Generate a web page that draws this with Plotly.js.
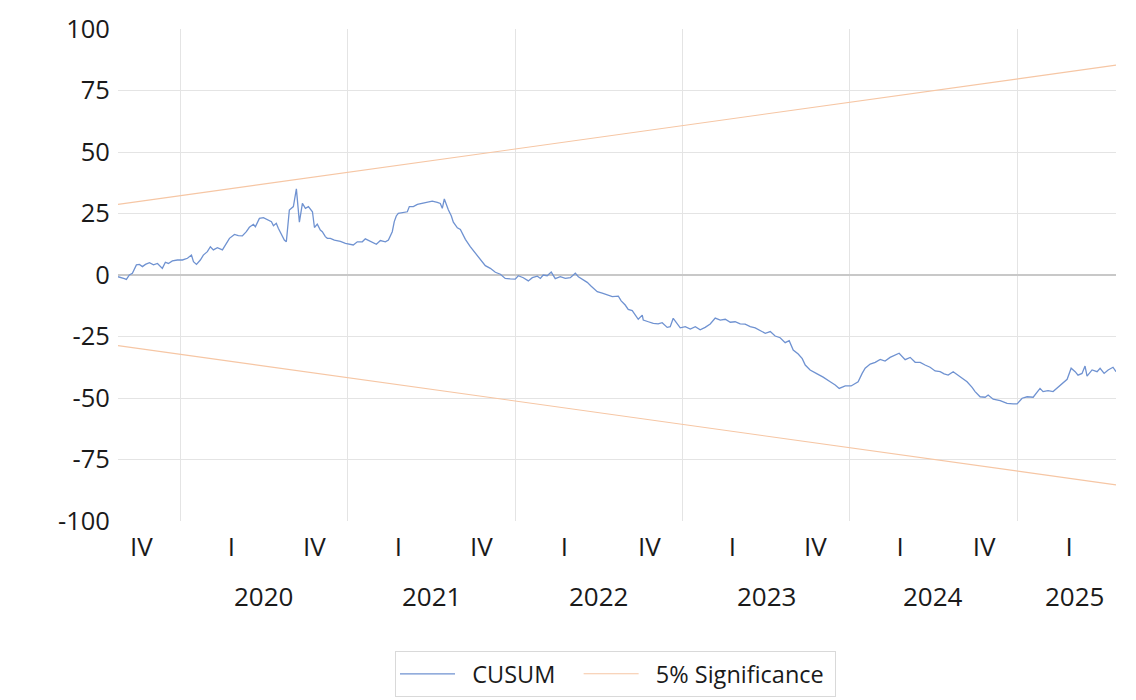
<!DOCTYPE html>
<html>
<head>
<meta charset="utf-8">
<script src="https://cdn.plot.ly/plotly-3.0.1.min.js"></script>
<style>
  html, body { margin: 0; padding: 0; background: #ffffff; }
  #chart { width: 1136px; height: 700px; }
</style>
</head>
<body>
<div id="chart"></div>
<script>
// Time in decimal years
const cusumTime = [
  2019.627, 2019.648, 2019.665, 2019.677, 2019.695, 2019.713, 2019.737, 2019.755, 2019.773, 2019.791,
  2019.815, 2019.839, 2019.863, 2019.892, 2019.910, 2019.928, 2019.952, 2019.982, 2020.012, 2020.042,
  2020.066, 2020.078, 2020.096, 2020.119, 2020.137, 2020.161, 2020.179, 2020.197, 2020.221, 2020.251,
  2020.269, 2020.293, 2020.323, 2020.346, 2020.370, 2020.394, 2020.412, 2020.436, 2020.448, 2020.472,
  2020.496, 2020.520, 2020.544, 2020.556, 2020.573, 2020.585, 2020.609, 2020.621, 2020.633, 2020.651,
  2020.675, 2020.693, 2020.711, 2020.729, 2020.747, 2020.765, 2020.789, 2020.801, 2020.818, 2020.836,
  2020.848, 2020.866, 2020.878, 2020.896, 2020.920, 2020.956, 2020.986, 2021.016, 2021.033, 2021.057,
  2021.087, 2021.105, 2021.135, 2021.171, 2021.195, 2021.225, 2021.243, 2021.255, 2021.266, 2021.278,
  2021.290, 2021.302, 2021.332, 2021.356, 2021.368, 2021.392, 2021.416, 2021.446, 2021.476, 2021.505,
  2021.535, 2021.553, 2021.565, 2021.577, 2021.601, 2021.619, 2021.631, 2021.655, 2021.673, 2021.703,
  2021.732, 2021.762, 2021.792, 2021.822, 2021.852, 2021.882, 2021.912, 2021.941, 2021.971, 2022.001,
  2022.019, 2022.049, 2022.079, 2022.103, 2022.133, 2022.151, 2022.168, 2022.192, 2022.216, 2022.240,
  2022.270, 2022.300, 2022.330, 2022.360, 2022.378, 2022.401, 2022.431, 2022.455, 2022.491, 2022.521,
  2022.551, 2022.581, 2022.617, 2022.634, 2022.658, 2022.676, 2022.700, 2022.718, 2022.736, 2022.760,
  2022.766, 2022.796, 2022.826, 2022.855, 2022.879, 2022.909, 2022.927, 2022.945, 2022.969, 2022.987,
  2023.017, 2023.047, 2023.077, 2023.106, 2023.136, 2023.166, 2023.196, 2023.226, 2023.256, 2023.286,
  2023.315, 2023.345, 2023.375, 2023.405, 2023.435, 2023.465, 2023.495, 2023.525, 2023.554, 2023.584,
  2023.614, 2023.638, 2023.662, 2023.692, 2023.716, 2023.734, 2023.763, 2023.805, 2023.841, 2023.883,
  2023.913, 2023.937, 2023.973, 2024.008, 2024.032, 2024.050, 2024.074, 2024.092, 2024.122, 2024.152,
  2024.182, 2024.211, 2024.241, 2024.271, 2024.295, 2024.331, 2024.361, 2024.391, 2024.421, 2024.450,
  2024.480, 2024.510, 2024.540, 2024.564, 2024.588, 2024.618, 2024.660, 2024.701, 2024.731, 2024.749,
  2024.779, 2024.809, 2024.827, 2024.857, 2024.899, 2024.940, 2024.976, 2025.000, 2025.030, 2025.060,
  2025.096, 2025.137, 2025.155, 2025.185, 2025.215, 2025.245, 2025.275, 2025.299, 2025.323, 2025.347,
  2025.364, 2025.388, 2025.406, 2025.418, 2025.448, 2025.478, 2025.496, 2025.520, 2025.544, 2025.573,
  2025.591
];

const cusumValues = [
  -0.7, -1.0, -1.5, -1.8, 0.0, 0.7, 4.1, 4.3, 3.4, 4.3,
  5.0, 4.1, 4.7, 2.7, 5.2, 4.7, 5.7, 6.1, 6.1, 6.8,
  8.1, 5.4, 4.3, 6.1, 8.1, 9.5, 11.5, 10.2, 11.1, 10.2,
  12.2, 14.9, 16.5, 16.0, 15.9, 17.6, 19.4, 20.6, 19.6, 23.0,
  23.3, 22.6, 21.7, 20.0, 21.0, 19.0, 15.6, 14.2, 13.5, 26.4,
  27.8, 35.0, 21.5, 29.1, 27.1, 27.8, 25.7, 19.3, 20.7, 18.3,
  17.6, 15.6, 14.9, 14.9, 14.2, 13.7, 12.9, 12.5, 12.2, 13.5,
  13.5, 14.7, 13.6, 12.5, 14.0, 13.5, 14.2, 16.3, 17.6, 21.7,
  24.0, 25.1, 25.6, 25.7, 27.8, 27.8, 28.7, 29.2, 29.8, 30.0,
  29.5, 29.1, 27.1, 30.9, 26.5, 24.0, 21.5, 19.2, 18.5, 14.5,
  11.5, 8.8, 6.0, 3.8, 2.7, 1.1, 0.3, -1.4, -1.6, -1.7,
  -0.3, -1.1, -2.4, -1.1, -0.5, -1.4, 0.0, -0.3, 1.2, -1.5,
  -0.7, -1.4, -1.1, 0.7, -0.7, -1.7, -3.0, -4.6, -6.8, -7.4,
  -8.0, -8.8, -8.6, -10.5, -12.2, -14.0, -14.5, -16.3, -18.0, -16.3,
  -18.3, -19.0, -19.7, -19.9, -19.4, -21.3, -21.0, -17.6, -19.9, -21.5,
  -21.0, -22.0, -21.0, -22.3, -21.3, -19.9, -17.5, -18.3, -18.0, -19.2,
  -19.0, -19.9, -20.0, -21.0, -21.5, -22.5, -23.7, -23.0, -24.8, -25.5,
  -27.5, -26.7, -30.5, -32.1, -34.0, -36.6, -38.6, -40.2, -41.5, -43.4,
  -44.7, -46.1, -45.1, -45.1, -44.3, -43.4, -40.0, -37.9, -36.2, -35.5,
  -34.3, -35.0, -33.5, -32.5, -31.8, -34.4, -33.5, -35.5, -35.5, -36.6,
  -37.5, -39.0, -39.3, -40.2, -40.7, -39.3, -41.3, -43.4, -45.7, -47.4,
  -49.5, -49.7, -48.8, -50.5, -51.1, -52.2, -52.4, -52.4, -50.1, -49.5,
  -49.7, -46.1, -47.4, -47.0, -47.4, -45.7, -44.0, -42.4, -37.9, -39.3,
  -40.7, -40.0, -37.0, -41.1, -38.6, -39.3, -37.9, -40.0, -38.6, -37.5,
  -39.3
];

// 5% significance bounds (straight lines, start and end)
const boundTime = [2019.627, 2025.591];
const upperBound = [28.7, 85.3];
const lowerBound = [-28.7, -85.3];

// Axis labels
const yTicks = [100, 75, 50, 25, 0, -25, -50, -75, -100];
const quarterTickPos = [2019.767, 2020.305, 2020.801, 2021.302, 2021.798, 2022.294, 2022.802, 2023.298, 2023.794, 2024.301, 2024.803, 2025.311];
const quarterTickText = ['IV', 'I', 'IV', 'I', 'IV', 'I', 'IV', 'I', 'IV', 'I', 'IV', 'I'];
const yearStarts = [2020, 2021, 2022, 2023, 2024, 2025];
const yearLabelPos = [2020.496, 2021.5, 2022.5, 2023.5, 2024.5, 2025.34];
const yearLabels = ['2020', '2021', '2022', '2023', '2024', '2025'];
const seriesNames = ['CUSUM', '5% Significance'];

const FONT = '"Open Sans", "Noto Sans", sans-serif';
const TXT = '#1a1a1a';
const NB = '\u00a0';

const traces = [
  {
    x: cusumTime, y: cusumValues, type: 'scatter', mode: 'lines',
    name: NB + NB + seriesNames[0] + NB + NB + NB,
    line: { color: '#6f92d1', width: 1.3 }
  },
  {
    x: boundTime, y: upperBound, type: 'scatter', mode: 'lines',
    name: NB + NB + seriesNames[1] + NB,
    line: { color: '#f6c6a4', width: 1.1 }, legendgroup: 'sig'
  },
  {
    x: boundTime, y: lowerBound, type: 'scatter', mode: 'lines', name: seriesNames[1],
    line: { color: '#f6c6a4', width: 1.1 }, legendgroup: 'sig', showlegend: false
  }
];

const H = 700;
const plotTop = 28.5, plotBottom = 521;
const toPaper = px => (plotBottom - px) / (plotBottom - plotTop);

const annotations = yearLabels.map((t, i) => ({
  x: yearLabelPos[i], xref: 'x', y: toPaper(596), yref: 'paper', text: t, showarrow: false,
  font: { family: FONT, size: 26, color: TXT }, xanchor: 'center', yanchor: 'middle'
}));

const layout = {
  width: 1136, height: H,
  margin: { l: 118, r: 20, t: plotTop, b: H - plotBottom, pad: 0 },
  paper_bgcolor: '#ffffff', plot_bgcolor: '#ffffff',
  font: { family: FONT, color: TXT },
  showlegend: true,
  legend: {
    orientation: 'h', x: 0.4985, xanchor: 'center',
    yref: 'container', y: (H - 651) / H, yanchor: 'top',
    font: { family: FONT, size: 23.5, color: TXT },
    bordercolor: '#d9d9d9', borderwidth: 1, bgcolor: '#ffffff',
    itemwidth: 55, tracegroupgap: 0
  },
  xaxis: {
    type: 'linear', range: [2019.627, 2025.591], showline: false, zeroline: false,
    showgrid: false,
    tickmode: 'array', tickvals: quarterTickPos, ticktext: quarterTickText,
    ticks: 'outside', ticklen: 3, tickcolor: 'rgba(0,0,0,0)',
    tickfont: { family: FONT, size: 26, color: TXT },
    minor: { tickmode: 'array', tickvals: yearStarts, showgrid: true, gridcolor: '#e4e4e4', gridwidth: 1, ticks: '' },
    fixedrange: true
  },
  yaxis: {
    range: [-100, 100], showline: false,
    tickmode: 'array', tickvals: yTicks, ticktext: yTicks.map(String),
    showgrid: false,
    zeroline: true, zerolinecolor: '#c8c8c8', zerolinewidth: 1.6,
    ticks: 'outside', ticklen: 2, tickcolor: 'rgba(0,0,0,0)',
    tickfont: { family: FONT, size: 25.5, color: TXT },
    minor: { tickmode: 'array', tickvals: [75, 50, 25, -25, -50, -75], showgrid: true, gridcolor: '#e4e4e4', gridwidth: 1, ticks: '' },
    fixedrange: true
  },
  annotations: annotations
};

Plotly.newPlot('chart', traces, layout, { staticPlot: true, displayModeBar: false });
</script>
</body>
</html>
